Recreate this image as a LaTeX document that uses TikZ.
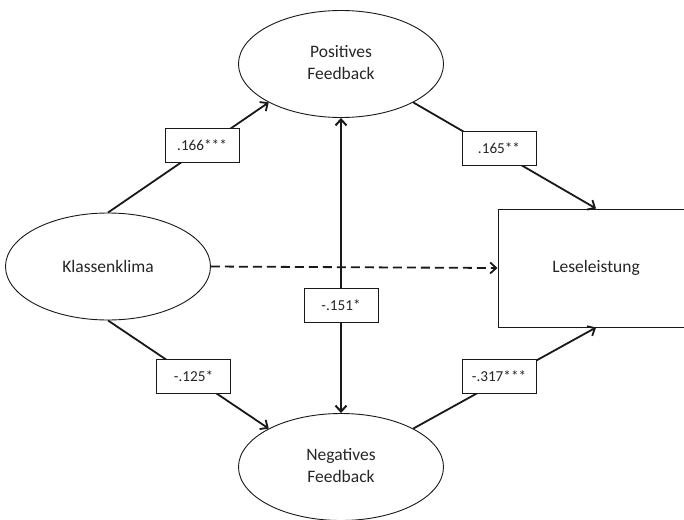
\documentclass[tikz,border=0pt]{standalone}
\usepackage{fontspec}
\setmainfont{Carlito}
\usetikzlibrary{arrows.meta,shapes.geometric}
\definecolor{txt}{RGB}{38,38,38}
\definecolor{ln}{RGB}{25,25,25}
\begin{document}
\begin{tikzpicture}[x=1pt,y=-1pt,
  latent/.style={draw=ln, ellipse, line width=0.9pt, minimum width=205pt, minimum height=107pt,
    inner sep=0pt, align=center, font=\fontsize{17.5}{21.5}\selectfont, text=txt},
  observed/.style={draw=ln, rectangle, line width=1pt, minimum width=196pt, minimum height=118pt,
    inner sep=0pt, font=\fontsize{17.5}{21.5}\selectfont, text=txt},
  coef/.style={draw=ln, fill=white, line width=0.9pt, minimum width=74pt, minimum height=34pt,
    inner sep=0pt, font=\fontsize{15.2}{18}\selectfont, text=txt},
  pathline/.style={draw=ln, line width=1.8pt, -{Straight Barb[length=6pt,width=11pt]}},
  dualline/.style={draw=ln, line width=2pt,
    {Straight Barb[length=6pt,width=11pt]}-{Straight Barb[length=6pt,width=11pt]}},
  dashline/.style={draw=ln, line width=1.8pt, dash pattern=on 9pt off 5pt,
    -{Straight Barb[length=6pt,width=11pt]}}]
\useasboundingbox (0,0) rectangle (684,519);
\fill[white] (0,0) rectangle (684,519);
\clip (0,0) rectangle (684,519);

\node[latent] (kk) at (108,266.5) {Klassenklima};
\node[latent] (pf) at (341,64) {\raisebox{-5pt}{\begin{tabular}{@{}c@{}}Positives\\Feedback\end{tabular}}};
\node[latent] (nf) at (341,467) {\raisebox{-2pt}{\begin{tabular}{@{}c@{}}Negatives\\Feedback\end{tabular}}};
\node[observed] (ll) at (596,268) {Leseleistung};

\draw[pathline] (kk.north) -- (pf.208);
\draw[pathline] (pf.-28) -- (ll.north);
\draw[pathline] (kk.south) -- (nf.152);
\draw[pathline] (nf.28) -- (ll.south);
\draw[dualline] (pf.south) -- (nf.north);
\draw[dashline] (kk.east) -- (ll.west);

\node[coef] (c1) at (202,145.5) {.166***};
\node[coef] (c2) at (499,148) {.165**};
\node[coef] (c3) at (341,305) {-.151*};
\node[coef] (c4) at (193.5,376) {-.125*};
\node[coef] (c5) at (499,376) {-.317***};
\end{tikzpicture}
\end{document}
